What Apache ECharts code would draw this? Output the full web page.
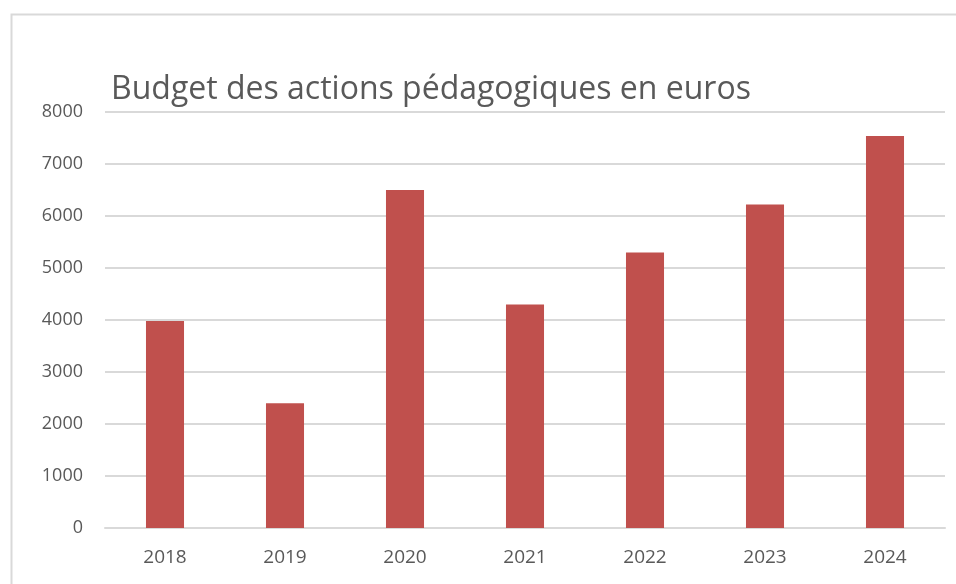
<!DOCTYPE html>
<html>
<head>
<meta charset="utf-8">
<script src="https://cdn.jsdelivr.net/npm/echarts@6/dist/echarts.min.js"></script>
<style>
html,body{margin:0;padding:0;background:#fff;}
#c{width:956px;height:584px;}
</style>
</head>
<body>
<div id="c"></div>
<script>
const categories = ['2018','2019','2020','2021','2022','2023','2024'];
const budget = [3980, 2400, 6500, 4300, 5300, 6220, 7540];
const yTicks = [0,1000,2000,3000,4000,5000,6000,7000,8000];
const titleText = 'Budget des actions pédagogiques en euros';

const chart = echarts.init(document.getElementById('c'), null, {renderer:'canvas'});
chart.setOption({
  animation:false,
  backgroundColor:'#ffffff',
  graphic:[{
    type:'rect', left:9, top:12, shape:{width:960, height:600},
    style:{fill:'none', stroke:'#d9d9d9', lineWidth:2}, silent:true
  }],
  title:{
    text:titleText, left:106, top:69,
    textStyle:{fontFamily:'Open Sans', fontWeight:'normal', fontSize:32, color:'#595959'}
  },
  grid:{left:105, right:11, top:112, bottom:56},
  xAxis:{
    type:'category', data:categories,
    axisLine:{lineStyle:{color:'#d9d9d9', width:2}},
    axisTick:{show:false},
    axisLabel:{color:'#595959', fontFamily:'Open Sans', fontSize:19, margin:20}
  },
  yAxis:{
    type:'value', min:yTicks[0], max:yTicks[yTicks.length-1], interval:1000,
    axisLine:{show:false}, axisTick:{show:false},
    splitLine:{lineStyle:{color:'#d9d9d9', width:2}},
    axisLabel:{color:'#595959', fontFamily:'Open Sans', fontSize:18, margin:22,
      formatter:function(v){return String(v);}}
  },
  series:[{
    type:'bar', data:budget, barWidth:'31.7%',
    itemStyle:{color:'#c0504d'}
  }]
});
</script>
</body>
</html>
